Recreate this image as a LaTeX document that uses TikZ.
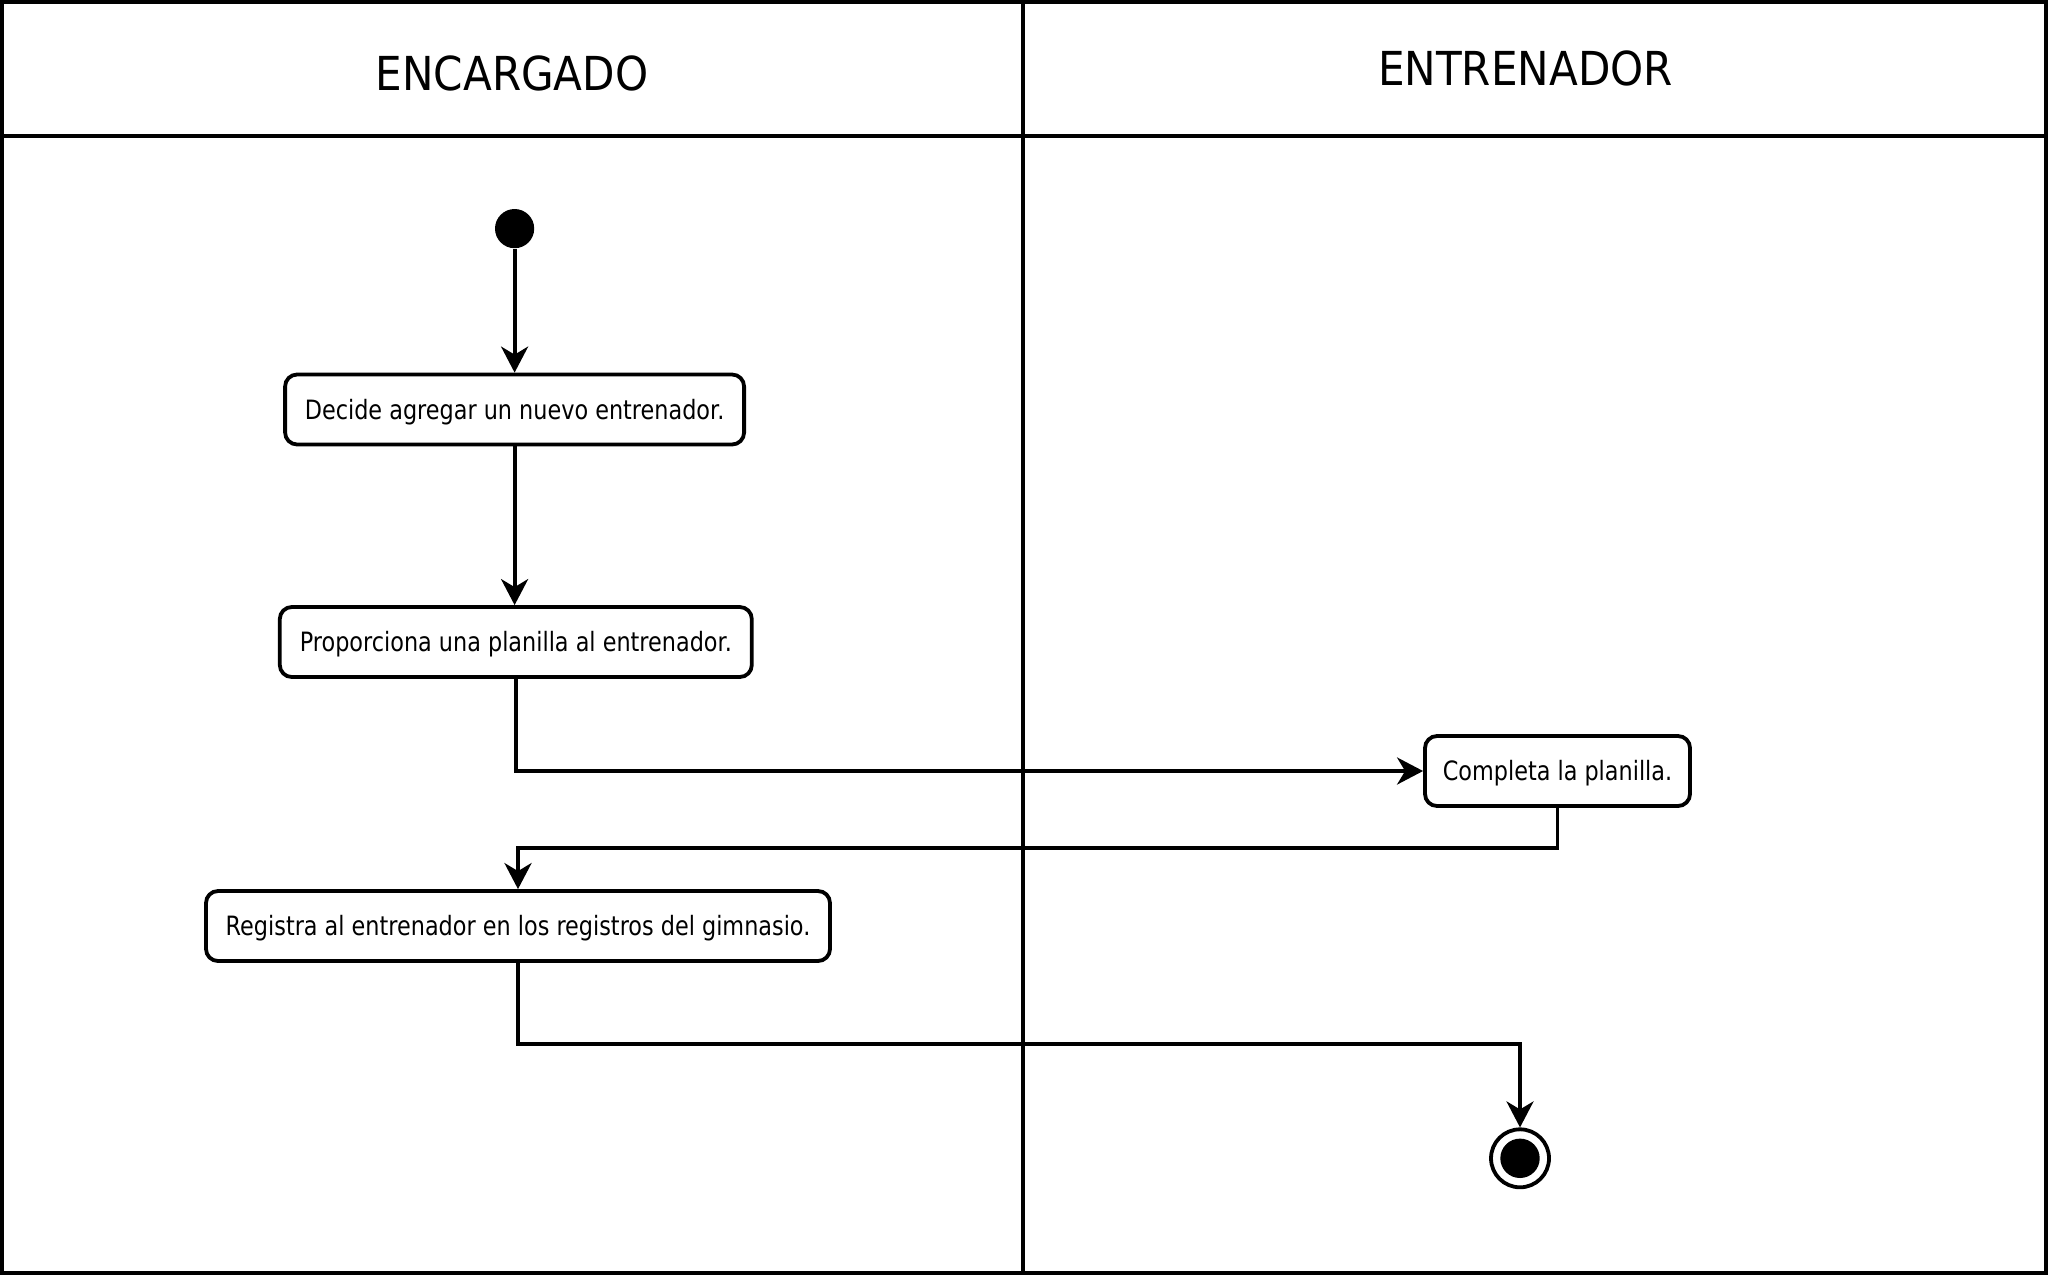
\documentclass[tikz,border=0pt]{standalone}
\usepackage{fontspec}
\usetikzlibrary{arrows.meta}
\newfontfamily\boxfont[FakeStretch=0.84]{DejaVu Sans}
\newfontfamily\headfont[FakeStretch=0.9]{DejaVu Sans}
\begin{document}
\begin{tikzpicture}[x=0.5pt,y=-0.5pt,
  lw/.style={line width=1.9pt},
  actbox/.style={draw, lw, rounded corners=6pt, minimum height=35pt, inner sep=0pt,
     text height=9.75pt, text depth=0pt, font=\boxfont\fontsize{13.3pt}{16pt}\selectfont},
  head/.style={anchor=base, inner sep=0pt, font=\headfont\fontsize{23.4pt}{28pt}\selectfont},
  flow/.style={lw, -{Stealth[length=13pt, width=13.5pt, inset=4pt]}}]
\useasboundingbox (0,0) rectangle (2048,1275);
% swimlanes
\draw[lw] (2,2) rectangle (2046,1273);
\draw[lw] (2,135.8) -- (2046,135.8);
\draw[lw] (1022.7,2) -- (1022.7,1273);
\node[head] (h1) at (512,90) {ENCARGADO};
\node[head] (h2) at (1525.5,85) {ENTRENADOR};
% nodes
\node[circle, fill=black, minimum size=19.6pt, inner sep=0pt] (start) at (514.6,228.6) {};
\node[actbox, minimum width=229.5pt] (b1) at (514.6,409.5) {Decide agregar un nuevo entrenador.};
\node[actbox, minimum width=236pt] (b2) at (515.8,642) {Proporciona una planilla al entrenador.};
\node[actbox, minimum width=132.5pt] (b3) at (1557.5,771) {Completa la planilla.};
\node[actbox, minimum width=312pt] (b4) at (518,926) {Registra al entrenador en los registros del gimnasio.};
\node[circle, draw, lw, minimum size=29pt, inner sep=0pt] (end) at (1520,1158.3) {};
\fill (end.center) circle (9.85pt);
% connectors
\coordinate (k1) at (1000,848);
\coordinate (k2) at (1000,1043.6);
\draw[flow] (start.south) -- (start.south |- b1.north);
\draw[flow] (b1.south) -- (b1.south |- b2.north);
\draw[flow] (b2.south) |- (b3.west);
\draw[flow] (b3.south) |- (k1) -| (b4.north);
\draw[flow] (b4.south) |- (k2) -| (end.north);
\end{tikzpicture}
\end{document}
